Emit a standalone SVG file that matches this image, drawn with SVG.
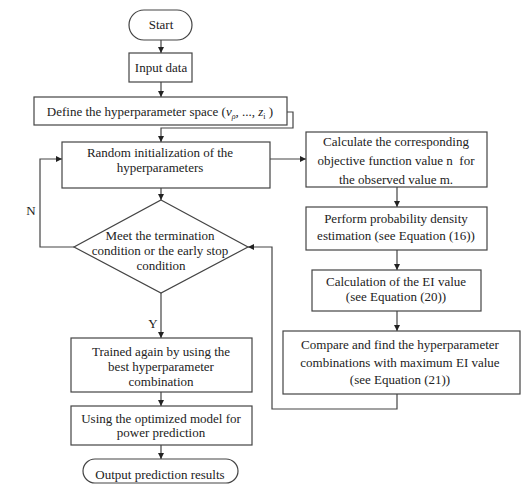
<svg xmlns="http://www.w3.org/2000/svg" width="526" height="497" viewBox="0 0 526 497">
<defs>
<marker id="ah" viewBox="0 0 10 10" refX="10" refY="5" markerWidth="9" markerHeight="6" markerUnits="userSpaceOnUse" orient="auto">
<path d="M0,0 L10,5 L0,10 Z" fill="#222"/>
</marker>
<style>
.b{fill:#fff;stroke:#444;stroke-width:1.2}
.c{fill:none;stroke:#444;stroke-width:1.2}
.a{marker-end:url(#ah)}
text{font-size:13px;fill:#222;text-anchor:middle}
.i{font-style:italic}
</style>
</defs>
<rect width="526" height="497" fill="#fff"/>
<g font-family="'Liberation Serif', 'DejaVu Serif', serif">
<g id="connectors">
<line class="c a" x1="161" y1="40" x2="161" y2="53"/>
<line class="c a" x1="161" y1="82" x2="161" y2="97"/>
<polyline class="c a" points="287,112 293,112 293,128 161,128 161,142"/>
<line class="c a" x1="270" y1="159" x2="306" y2="159"/>
<line class="c a" x1="161" y1="188" x2="161" y2="200"/>
<line class="c a" x1="397" y1="187" x2="397" y2="207"/>
<line class="c a" x1="397" y1="250" x2="397" y2="270"/>
<line class="c a" x1="397" y1="311" x2="397" y2="331"/>
<polyline class="c a" points="397,394 397,409 272,409 272,247 248,247"/>
<polyline class="c a" points="74,247 40,247 40,159 62,159"/>
<line class="c a" x1="161" y1="293" x2="161" y2="338"/>
<line class="c a" x1="161" y1="392" x2="161" y2="406"/>
<line class="c a" x1="161" y1="445" x2="161" y2="459"/>
<text x="31" y="215">N</text>
<text x="153" y="328">Y</text>
</g>
<g id="start">
<rect class="b" x="129" y="10" width="63" height="30" rx="15"/>
<text x="161" y="29">Start</text>
</g>
<g id="input">
<rect class="b" x="129" y="53" width="63" height="29"/>
<text x="161" y="72">Input data</text>
</g>
<g id="define">
<rect class="b" x="34" y="97" width="253" height="28"/>
<text x="160" y="116">Define the hyperparameter space (<tspan class="i">v</tspan><tspan class="i" font-size="8" dy="3">ρ</tspan><tspan dy="-3">, ..., </tspan><tspan class="i">z</tspan><tspan font-size="8" dy="3">i</tspan><tspan dy="-3"> )</tspan></text>
</g>
<g id="random">
<rect class="b" x="62" y="142" width="208" height="46"/>
<text x="160" y="157">Random initialization of the</text>
<text x="160" y="172">hyperparameters</text>
</g>
<g id="decision">
<polygon class="b" points="161,200 248,247 161,293 74,247"/>
<text x="160" y="240">Meet the termination</text>
<text x="160" y="255">condition or the early stop</text>
<text x="161" y="270">condition</text>
</g>
<g id="calc">
<rect class="b" x="306" y="132" width="181" height="55"/>
<text x="396" y="146">Calculate the corresponding</text>
<text x="396" y="165" xml:space="preserve">objective function value n  for</text>
<text x="396" y="184">the observed value m.</text>
</g>
<g id="perform">
<rect class="b" x="306" y="207" width="181" height="43"/>
<text x="396" y="223">Perform probability density</text>
<text x="396" y="240">estimation (see Equation (16))</text>
</g>
<g id="ei">
<rect class="b" x="312" y="270" width="169" height="41"/>
<text x="396" y="286">Calculation of the EI value</text>
<text x="396" y="301">(see Equation (20))</text>
</g>
<g id="compare">
<rect class="b" x="283" y="331" width="237" height="63"/>
<text x="400" y="349">Compare and find the hyperparameter</text>
<text x="400" y="367">combinations with maximum EI value</text>
<text x="400" y="384">(see Equation (21))</text>
</g>
<g id="trained">
<rect class="b" x="71" y="338" width="181" height="54"/>
<text x="161" y="356">Trained again by using the</text>
<text x="161" y="371">best hyperparameter</text>
<text x="161" y="386">combination</text>
</g>
<g id="using">
<rect class="b" x="71" y="406" width="181" height="39"/>
<text x="161" y="423">Using the optimized model for</text>
<text x="161" y="437">power prediction</text>
</g>
<g id="output">
<rect class="b" x="83" y="459" width="155" height="24" rx="12"/>
<text x="160" y="479">Output prediction results</text>
</g>
</g>
</svg>
